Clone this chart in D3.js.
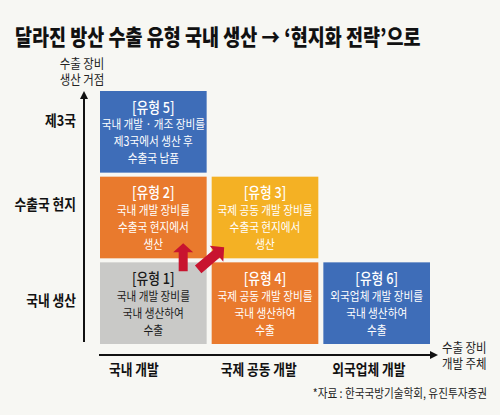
<!DOCTYPE html>
<html>
<head>
<meta charset="utf-8">
<script src="https://cdn.jsdelivr.net/npm/d3@7"></script>
<style>
  body { margin: 0; background: #f7f7f3; }
  svg { display: block; font-family: 'Noto Sans CJK KR', 'Noto Sans', sans-serif; }
</style>
</head>
<body>
<svg id="chart" width="500" height="415"></svg>
<script>
// chart data
const title = '달라진 방산 수출 유형 국내 생산 → ‘현지화 전략’으로';
const colLabels = ['국내 개발', '국제 공동 개발', '외국업체 개발'];
const rowLabels = ['국내 생산', '수출국 현지', '제3국'];
const xTitle = ['수출 장비', '개발 주체'];
const yTitle = ['수출 장비', '생산 거점'];
const source = '*자료 : 한국국방기술학회, 유진투자증권';

const typeNames = ['[유형 1]', '[유형 2]', '[유형 3]', '[유형 4]', '[유형 5]', '[유형 6]'];
const typeCol = ['국내 개발', '국내 개발', '국제 공동 개발', '국제 공동 개발', '국내 개발', '외국업체 개발'];
const typeRow = ['국내 생산', '수출국 현지', '수출국 현지', '국내 생산', '제3국', '국내 생산'];
const typeLines = [
  ['국내 개발 장비를', '국내 생산하여', '수출'],
  ['국내 개발 장비를', '수출국 현지에서', '생산'],
  ['국제 공동 개발 장비를', '수출국 현지에서', '생산'],
  ['국제 공동 개발 장비를', '국내 생산하여', '수출'],
  ['국내 개발 · 개조 장비를', '제3국에서 생산 후', '수출국 납품'],
  ['외국업체 개발 장비를', '국내 생산하여', '수출']
];
const typeFill = ['#c9c9c7', '#e97a2d', '#f4b124', '#e97a2d', '#3e6db8', '#3e6db8'];
const typeText = ['#1a1a1a', '#fff', '#fff', '#fff', '#fff', '#fff'];

// =========================
// LAYOUT
// =========================

const svg = d3.select('#chart');
const condense = 0.85;

svg.append('rect')
  .attr('width', 500)
  .attr('height', 415)
  .attr('fill', '#f7f7f3');

const x = d3.scaleBand()
  .domain(colLabels)
  .range([100, 430])
  .paddingInner(0.045);

const y = d3.scaleBand()
  .domain(rowLabels)
  .range([344, 91])
  .paddingInner(0.047);

function label(g, px, py, str, size, weight, anchor, fill, sx = condense) {
  return g.append('text')
    .attr('transform', `translate(${px}, ${py}) scale(${sx}, 1)`)
    .attr('text-anchor', anchor)
    .attr('dominant-baseline', 'central')
    .attr('font-size', size)
    .attr('font-weight', weight)
    .attr('fill', fill)
    .text(str);
}

// title
label(svg, 15, 36, title, 21.5, 900, 'start', '#111', 0.86);

// =========================
// CELLS
// =========================

const types = typeNames.map((name, i) => ({
  name,
  col: typeCol[i],
  row: typeRow[i],
  lines: typeLines[i],
  fill: typeFill[i],
  text: typeText[i]
}));

const cells = svg.selectAll('.cell')
  .data(types)
  .enter()
  .append('g')
  .attr('class', 'cell');

cells.append('rect')
  .attr('x', d => x(d.col))
  .attr('y', d => y(d.row))
  .attr('width', x.bandwidth())
  .attr('height', y.bandwidth())
  .attr('fill', d => d.fill);

cells.each(function(d) {
  const g = d3.select(this);
  const cx = x(d.col) + x.bandwidth() / 2;
  const cy = y(d.row) + y.bandwidth() / 2;
  label(g, cx, cy - 25.5, d.name, 15, 500, 'middle', d.text);
  d.lines.forEach((line, i) => {
    label(g, cx, cy - 8 + i * 17, line, 12.5, 400, 'middle', d.text);
  });
});

// =========================
// RED ARROWS
// =========================

function arrowPath(x0, y0, x1, y1, sw, hw, hl) {
  const len = Math.hypot(x1 - x0, y1 - y0);
  const ux = (x1 - x0) / len, uy = (y1 - y0) / len;
  const nx = -uy, ny = ux;
  const bx = x1 - ux * hl, by = y1 - uy * hl;
  const pts = [
    [x0 + nx * sw / 2, y0 + ny * sw / 2],
    [bx + nx * sw / 2, by + ny * sw / 2],
    [bx + nx * hw / 2, by + ny * hw / 2],
    [x1, y1],
    [bx - nx * hw / 2, by - ny * hw / 2],
    [bx - nx * sw / 2, by - ny * sw / 2],
    [x0 - nx * sw / 2, y0 - ny * sw / 2]
  ];
  return d3.line()(pts) + 'Z';
}

const gapX = x(colLabels[0]) + x.bandwidth() + (x.step() - x.bandwidth()) / 2;
const gapY = y(rowLabels[0]) - (y.step() - y.bandwidth()) / 2;
const vx = x(colLabels[0]) + x.bandwidth() * 0.78;

svg.append('path')
  .attr('d', arrowPath(vx, gapY + 11, vx, gapY - 17, 9, 20, 9))
  .attr('fill', '#c8142f');

svg.append('path')
  .attr('d', arrowPath(gapX - 11, gapY + 9, gapX + 15, gapY - 13, 10, 21, 10))
  .attr('fill', '#c8142f');

// =========================
// AXES
// =========================

const axisX = 84;
const axisY = 355;

svg.append('line')
  .attr('x1', axisX).attr('x2', axisX)
  .attr('y1', y.range()[0] - 2).attr('y2', y.range()[1] + 5)
  .attr('stroke', '#111')
  .attr('stroke-width', 2);

svg.append('path')
  .attr('d', `M${axisX - 4},${y.range()[1] + 8}L${axisX},${y.range()[1]}L${axisX + 4},${y.range()[1] + 8}Z`)
  .attr('fill', '#111');

svg.append('line')
  .attr('x1', x.range()[0] - 1).attr('x2', x.range()[1] + 2)
  .attr('y1', axisY).attr('y2', axisY)
  .attr('stroke', '#111')
  .attr('stroke-width', 2);

svg.append('path')
  .attr('d', `M${x.range()[1]},${axisY - 4}L${x.range()[1] + 8},${axisY}L${x.range()[1]},${axisY + 4}Z`)
  .attr('fill', '#111');

// category labels
colLabels.forEach(c => {
  label(svg, x(c) + 9, 369, c, 15, 700, 'start', '#111');
});

const rowOffset = [37, 27, 29];
rowLabels.forEach((r, i) => {
  label(svg, 76, y(r) + rowOffset[i], r, 15, 700, 'end', '#111');
});

// axis titles
yTitle.forEach((t, i) => {
  label(svg, 82, 62.5 + i * 16, t, 13, 400, 'middle', '#222', 0.88);
});

xTitle.forEach((t, i) => {
  label(svg, 442, 347 + i * 16, t, 13, 400, 'start', '#222', 0.88);
});

// source
label(svg, 487, 393, source, 12.5, 400, 'end', '#222');
</script>
</body>
</html>
